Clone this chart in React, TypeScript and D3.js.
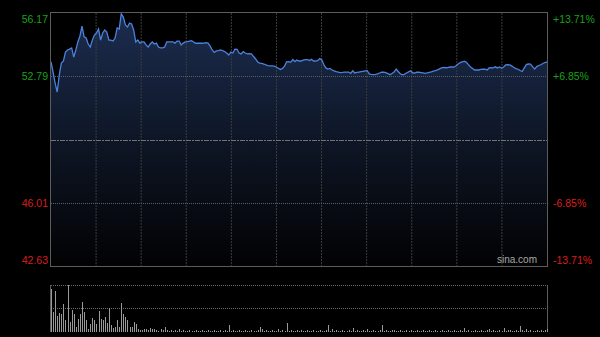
import React from "react";
import * as d3 from "d3";

const prevClose = 49.40;
const priceTicks = [56.17, 52.79, 46.01, 42.63];
const pctTicks = ["+13.71%", "+6.85%", "-6.85%", "-13.71%"];

const prices = [
  53.55, 53.01, 52.42, 51.94, 52.85, 53.49, 53.60, 54.08, 54.19, 54.24,
  54.30, 53.81, 54.19, 54.62, 54.94, 55.47, 54.89, 54.83, 54.51, 54.35,
  54.72, 54.99, 55.10, 55.31, 54.72, 55.10, 55.26, 55.15, 54.72, 54.72,
  54.67, 54.83, 55.37, 55.31, 56.12, 55.95, 55.53, 55.42, 55.63, 55.58,
  55.26, 54.62, 54.72, 54.56, 54.62, 54.62, 54.46, 54.35, 54.51, 54.62,
  54.51, 54.56, 54.35, 54.30, 54.30, 54.35, 54.62, 54.62, 54.62, 54.62,
  54.56, 54.67, 54.67, 54.46, 54.56, 54.62, 54.64, 54.67, 54.69, 54.62,
  54.55, 54.55, 54.55, 54.55, 54.56, 54.58, 54.56, 54.40, 54.19, 54.06,
  54.14, 54.16, 54.19, 54.16, 54.11, 54.03, 53.92, 54.08, 54.03, 54.24,
  54.23, 54.03, 53.98, 54.10, 54.03, 53.98, 54.00, 53.98, 53.84, 53.71,
  53.55, 53.49, 53.47, 53.44, 53.39, 53.35, 53.34, 53.34, 53.33, 53.28,
  53.21, 53.15, 53.20, 53.33, 53.55, 53.57, 53.53, 53.68, 53.57, 53.65,
  53.60, 53.60, 53.65, 53.68, 53.68, 53.63, 53.69, 53.60, 53.60, 53.62,
  53.73, 53.67, 53.41, 53.23, 53.17, 53.20, 53.12, 53.07, 53.03, 53.00,
  52.98, 52.99, 53.01, 53.01, 53.01, 52.94, 53.08, 52.96, 52.99, 53.01,
  53.03, 53.05, 53.07, 53.08, 52.91, 52.88, 52.87, 52.88, 52.91, 52.96,
  53.01, 53.00, 52.98, 52.93, 52.87, 52.93, 53.01, 53.17, 53.04, 52.92,
  52.86, 52.89, 52.96, 53.02, 53.08, 52.97, 52.96, 53.01, 53.00, 52.98,
  52.96, 52.94, 52.96, 52.99, 53.02, 53.06, 53.09, 53.13, 53.18, 53.23,
  53.26, 53.24, 53.25, 53.29, 53.28, 53.27, 53.35, 53.44, 53.51, 53.55,
  53.59, 53.53, 53.41, 53.28, 53.20, 53.12, 53.12, 53.12, 53.15, 53.16,
  53.16, 53.12, 53.23, 53.25, 53.23, 53.29, 53.23, 53.28, 53.21, 53.28,
  53.39, 53.40, 53.39, 53.33, 53.25, 53.19, 53.16, 53.09, 53.04, 53.23,
  53.41, 53.44, 53.43, 53.30, 53.17, 53.30, 53.36, 53.40, 53.47, 53.52,
  53.56,
];

const volumes = [
  43, 20, 41, 16, 19, 18, 28, 12, 47, 10,
  22, 18, 5, 13, 18, 30, 20, 12, 3, 8,
  14, 12, 8, 21, 13, 12, 15, 9, 24, 7,
  4, 5, 12, 5, 29, 18, 15, 12, 5, 5,
  10, 8, 3, 2, 2, 3, 3, 2, 4, 3,
  3, 2, 1, 3, 2, 5, 2, 1, 2, 1,
  2, 1, 3, 1, 2, 1, 1, 2, 1, 1,
  2, 1, 1, 2, 1, 1, 2, 1, 1, 2,
  1, 1, 2, 1, 2, 1, 7, 1, 2, 1,
  1, 2, 1, 1, 2, 1, 1, 2, 1, 1,
  2, 5, 3, 1, 2, 1, 1, 2, 1, 1,
  3, 1, 2, 1, 9, 1, 2, 1, 1, 2,
  1, 2, 1, 1, 2, 1, 1, 2, 1, 1,
  2, 1, 1, 2, 7, 1, 3, 1, 2, 1,
  1, 2, 1, 1, 2, 1, 4, 1, 2, 1,
  1, 2, 1, 3, 1, 1, 2, 1, 1, 2,
  7, 1, 2, 1, 1, 2, 2, 1, 1, 2,
  1, 1, 2, 1, 2, 1, 1, 2, 1, 1,
  2, 1, 1, 2, 1, 1, 2, 1, 1, 2,
  1, 1, 2, 1, 1, 2, 1, 1, 2, 1,
  4, 1, 2, 1, 1, 2, 1, 1, 2, 1,
  1, 2, 3, 1, 2, 1, 1, 2, 1, 4,
  1, 2, 2, 1, 1, 2, 1, 6, 2, 1,
  3, 1, 2, 1, 1, 2, 1, 2, 1, 2,
  3,
];

const L = 51, R = 547, T = 13, B = 266;
const VT = 285, VB = 332;

export default function App() {
  React.useEffect(() => {
    document.body.style.margin = "0";
    document.body.style.background = "#000";
  }, []);

  const x = d3.scaleLinear().domain([0, 240]).range([L, R]);
  const y = d3.scaleLinear().domain([42.63, 56.17]).range([B, T]);
  const vy = d3.scaleLinear().domain([0, d3.max(volumes) as number]).range([VB, VT]);

  const line = d3.line<number>().x((_, i) => x(i)).y((d) => y(d));
  const area = d3.area<number>().x((_, i) => x(i)).y0(B).y1((d) => y(d));

  const vGrid = d3.range(1, 11).map((k) => L + (k * (R - L)) / 11);
  const font = "'Liberation Sans', Arial, sans-serif";
  const green = "#17a317";
  const red = "#dd1c1c";
  const labelY = [T + 6, y(priceTicks[1]), y(priceTicks[2]), B - 6];

  return (
    <svg width={600} height={337} style={{ position: "absolute", left: 0, top: 0, display: "block" }}>
      <defs>
        <linearGradient id="fillG" x1="0" y1={T} x2="0" y2={B} gradientUnits="userSpaceOnUse">
          <stop offset="0" stopColor="#1c2d50" />
          <stop offset="0.5" stopColor="#0e1626" />
          <stop offset="1" stopColor="#020203" />
        </linearGradient>
      </defs>
      <rect x={0} y={0} width={600} height={337} fill="#000" />
      <path d={area(prices) as string} fill="url(#fillG)" />
      {vGrid.map((gx, k) => (
        <line key={k} x1={gx} x2={gx} y1={T} y2={B} stroke="#3c3c3c" strokeWidth={1} strokeDasharray="2 1" />
      ))}
      {[priceTicks[1], priceTicks[2]].map((p, k) => (
        <line key={k} x1={L} x2={R} y1={Math.round(y(p)) + 0.5} y2={Math.round(y(p)) + 0.5} stroke="#5a5e66" strokeWidth={1} strokeDasharray="1 1" />
      ))}
      <line x1={L} x2={R} y1={Math.round(y(prevClose)) + 0.5} y2={Math.round(y(prevClose)) + 0.5} stroke="#6e737c" strokeWidth={1} strokeDasharray="5 1 2 1" />
      <path d={line(prices) as string} fill="none" stroke="#4b82dc" strokeWidth={1.3} />
      <rect x={L - 0.5} y={T - 0.5} width={R - L + 1} height={B - T + 1} fill="none" stroke="#5c5c5c" strokeWidth={1} />

      {priceTicks.map((p, k) => (
        <text key={k} x={48} y={labelY[k]} dy="0.35em" textAnchor="end" fill={k < 2 ? green : red} fontFamily={font} fontSize={10.5}>
          {p.toFixed(2)}
        </text>
      ))}
      {pctTicks.map((t, k) => (
        <text key={k} x={553} y={labelY[k]} dy="0.35em" textAnchor="start" fill={k < 2 ? green : red} fontFamily={font} fontSize={10.5}>
          {t}
        </text>
      ))}
      <text x={537} y={263} textAnchor="end" fill="#a8a8a8" fontFamily={font} fontSize={10}>sina.com</text>

      {/* volume panel */}
      <line x1={L} x2={R} y1={VT + 0.5} y2={VT + 0.5} stroke="#6a6a6a" strokeDasharray="1 1" />
      <line x1={L} x2={R} y1={(VT + VB) / 2} y2={(VT + VB) / 2} stroke="#6a6a6a" strokeDasharray="1 1" />
      <line x1={L - 0.5} x2={L - 0.5} y1={VT} y2={VB} stroke="#5c5c5c" />
      <line x1={R + 0.5} x2={R + 0.5} y1={VT} y2={VB} stroke="#5c5c5c" />
      {volumes.map((v, i) => (
        <rect key={i} x={Math.round(x(i))} y={vy(v)} width={1} height={VB - vy(v)} fill="#9a9a9a" />
      ))}
    </svg>
  );
}
